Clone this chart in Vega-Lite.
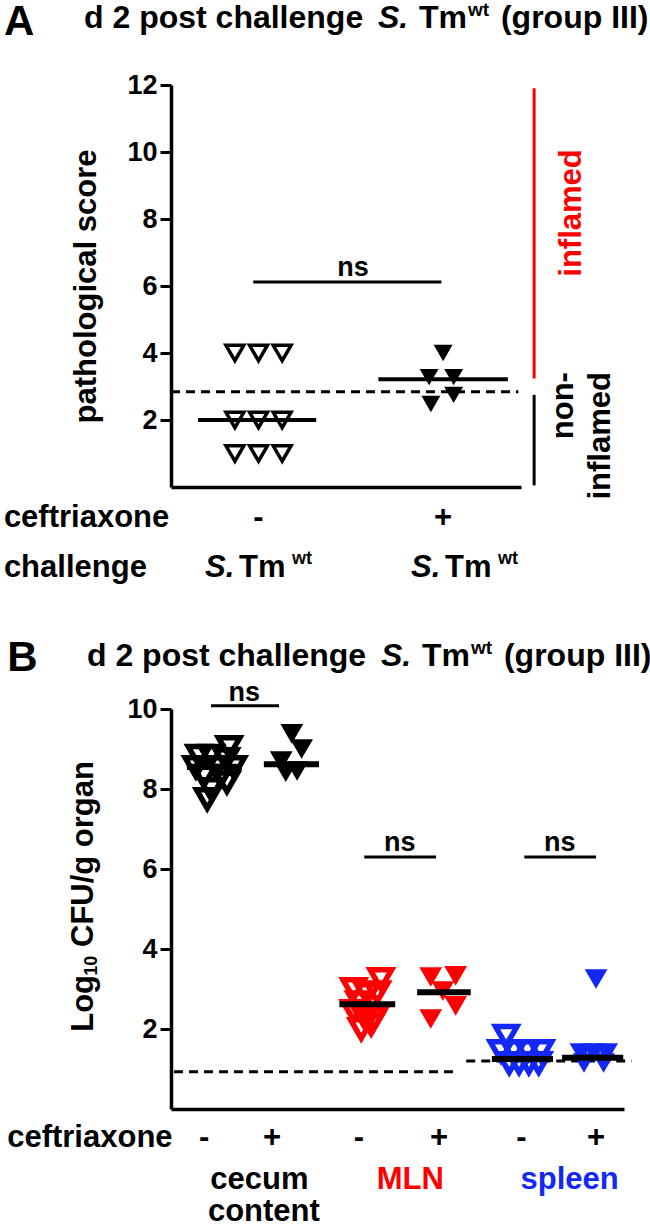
{
  "$schema": "https://vega.github.io/schema/vega-lite/v6.json",
  "padding": {"left": 3, "top": 0, "right": 0, "bottom": 0},
  "background": "white",
  "spacing": 53,
  "config": {
    "view": {"stroke": null},
    "font": "Liberation Sans",
    "axis": {"domainColor": "black", "domainWidth": 3.5, "tickColor": "black", "tickWidth": 3, "tickSize": 11, "labelFont": "Liberation Sans", "labelFontWeight": "bold", "labelFontSize": 27, "labelColor": "black", "labelPadding": 3, "grid": false, "titleFont": "Liberation Sans", "titleFontWeight": "bold", "titleFontSize": 31, "titleColor": "black"}
  },
  "datasets": {
    "a_pts": [
      {"x": 0.73, "y": 4, "abx": "-"}, {"x": 1.0, "y": 4, "abx": "-"}, {"x": 1.27, "y": 4, "abx": "-"},
      {"x": 0.73, "y": 2, "abx": "-"}, {"x": 1.0, "y": 2, "abx": "-"}, {"x": 1.27, "y": 2, "abx": "-"},
      {"x": 0.73, "y": 1, "abx": "-"}, {"x": 1.0, "y": 1, "abx": "-"}, {"x": 1.27, "y": 1, "abx": "-"},
      {"x": 3.11, "y": 4.0, "abx": "+"}, {"x": 2.95, "y": 3.28, "abx": "+"}, {"x": 3.23, "y": 3.28, "abx": "+"}, {"x": 2.97, "y": 2.48, "abx": "+"}, {"x": 3.23, "y": 2.75, "abx": "+"}
    ],
    "a_h": [
      {"x": 0.31, "x2": 1.66, "y": 2, "role": "median"},
      {"x": 2.37, "x2": 3.85, "y": 3.22, "role": "median"},
      {"x": 0.94, "x2": 3.09, "y": 6.12, "role": "sig"},
      {"x": 0, "x2": 3.97, "y": 2.84, "role": "threshold"}
    ],
    "a_v": [
      {"x": 4.15, "y": 11.9, "y2": 3.24, "role": "inflamed"},
      {"x": 4.15, "y": 2.75, "y2": 0.05, "role": "non-inflamed"}
    ],
    "a_txt": [
      {"x": -1.91, "y": 13.5, "text": "A", "role": "panel"},
      {"x": -0.994, "y": 13.7, "text": "d 2 post challenge", "role": "title"},
      {"x": 2.366, "y": 13.7, "text": "S.", "role": "title_it"},
      {"x": 2.834, "y": 13.7, "text": "Tm", "role": "title"},
      {"x": 3.394, "y": 14.06, "text": "wt", "role": "title_sup"},
      {"x": 3.771, "y": 13.7, "text": "(group III)", "role": "title"},
      {"x": 2.08, "y": 6.3, "text": "ns", "role": "ns"},
      {"x": -1.91, "y": -1.19, "text": "ceftriaxone", "role": "row"},
      {"x": -1.91, "y": -2.69, "text": "challenge", "role": "row"},
      {"x": 1.0, "y": -1.19, "text": "-", "role": "sign"},
      {"x": 3.11, "y": -1.19, "text": "+", "role": "sign"},
      {"x": 0.389, "y": -2.69, "text": "S.", "role": "row_it"},
      {"x": 0.777, "y": -2.69, "text": "Tm", "role": "row"},
      {"x": 1.383, "y": -2.3, "text": "wt", "role": "row_sup"},
      {"x": 2.743, "y": -2.69, "text": "S.", "role": "row_it"},
      {"x": 3.131, "y": -2.69, "text": "Tm", "role": "row"},
      {"x": 3.737, "y": -2.3, "text": "wt", "role": "row_sup"},
      {"x": 4.58, "y": 8.18, "text": "inflamed", "role": "inflamed"},
      {"x": 4.49, "y": 3.43, "text": "non-", "role": "noninflamed"},
      {"x": 4.91, "y": 3.43, "text": "inflamed", "role": "noninflamed"}
    ],
    "b_pts": [
      {"x": 0.77, "y": 8.83, "organ": "cecum", "abx": "-"}, {"x": 0.93, "y": 8.83, "organ": "cecum", "abx": "-"}, {"x": 1.17, "y": 9.05, "organ": "cecum", "abx": "-"}, {"x": 0.73, "y": 8.55, "organ": "cecum", "abx": "-"}, {"x": 1.23, "y": 8.55, "organ": "cecum", "abx": "-"}, {"x": 0.84, "y": 8.33, "organ": "cecum", "abx": "-"}, {"x": 1.06, "y": 8.33, "organ": "cecum", "abx": "-"}, {"x": 1.14, "y": 8.17, "organ": "cecum", "abx": "-"}, {"x": 0.93, "y": 8.0, "organ": "cecum", "abx": "-"}, {"x": 0.88, "y": 7.75, "organ": "cecum", "abx": "-"}, {"x": 1.0, "y": 8.55, "organ": "cecum", "abx": "-"}, {"x": 1.13, "y": 8.75, "organ": "cecum", "abx": "-"},
      {"x": 2.0, "y": 9.38, "organ": "cecum", "abx": "+"}, {"x": 2.13, "y": 9.0, "organ": "cecum", "abx": "+"}, {"x": 1.86, "y": 8.7, "organ": "cecum", "abx": "+"}, {"x": 1.92, "y": 8.42, "organ": "cecum", "abx": "+"}, {"x": 2.07, "y": 8.45, "organ": "cecum", "abx": "+"},
      {"x": 2.82, "y": 3.0, "organ": "MLN", "abx": "-"}, {"x": 3.18, "y": 3.25, "organ": "MLN", "abx": "-"}, {"x": 3.0, "y": 2.88, "organ": "MLN", "abx": "-"}, {"x": 3.13, "y": 2.92, "organ": "MLN", "abx": "-"}, {"x": 2.82, "y": 2.45, "organ": "MLN", "abx": "-"}, {"x": 2.96, "y": 2.3, "organ": "MLN", "abx": "-"}, {"x": 3.09, "y": 2.25, "organ": "MLN", "abx": "-"}, {"x": 2.92, "y": 2.0, "organ": "MLN", "abx": "-"}, {"x": 3.05, "y": 2.12, "organ": "MLN", "abx": "-"}, {"x": 2.89, "y": 2.67, "organ": "MLN", "abx": "-"},
      {"x": 3.84, "y": 3.3, "organ": "MLN", "abx": "+"}, {"x": 4.17, "y": 3.33, "organ": "MLN", "abx": "+"}, {"x": 4.0, "y": 2.95, "organ": "MLN", "abx": "+"}, {"x": 4.17, "y": 2.58, "organ": "MLN", "abx": "+"}, {"x": 3.84, "y": 2.25, "organ": "MLN", "abx": "+"},
      {"x": 4.84, "y": 1.83, "organ": "spleen", "abx": "-"}, {"x": 4.77, "y": 1.45, "organ": "spleen", "abx": "-"}, {"x": 4.94, "y": 1.45, "organ": "spleen", "abx": "-"}, {"x": 5.12, "y": 1.45, "organ": "spleen", "abx": "-"}, {"x": 5.3, "y": 1.45, "organ": "spleen", "abx": "-"}, {"x": 4.88, "y": 1.15, "organ": "spleen", "abx": "-"}, {"x": 5.01, "y": 1.15, "organ": "spleen", "abx": "-"}, {"x": 5.14, "y": 1.15, "organ": "spleen", "abx": "-"}, {"x": 5.27, "y": 1.15, "organ": "spleen", "abx": "-"},
      {"x": 6.03, "y": 3.25, "organ": "spleen", "abx": "+"}, {"x": 5.83, "y": 1.4, "organ": "spleen", "abx": "+"}, {"x": 6.0, "y": 1.4, "organ": "spleen", "abx": "+"}, {"x": 6.17, "y": 1.4, "organ": "spleen", "abx": "+"}, {"x": 5.87, "y": 1.15, "organ": "spleen", "abx": "+"}, {"x": 6.13, "y": 1.15, "organ": "spleen", "abx": "+"}
    ],
    "b_h": [
      {"x": 0.61, "x2": 1.34, "y": 8.55, "role": "median"},
      {"x": 1.63, "x2": 2.36, "y": 8.62, "role": "median"},
      {"x": 2.63, "x2": 3.37, "y": 2.62, "role": "median"},
      {"x": 3.66, "x2": 4.37, "y": 2.92, "role": "median"},
      {"x": 4.65, "x2": 5.46, "y": 1.25, "role": "median"},
      {"x": 5.58, "x2": 6.39, "y": 1.28, "role": "median"},
      {"x": 0.93, "x2": 1.83, "y": 10.08, "role": "sig"},
      {"x": 2.96, "x2": 3.91, "y": 6.3, "role": "sig"},
      {"x": 5.08, "x2": 6.03, "y": 6.3, "role": "sig"},
      {"x": 0.44, "x2": 4.21, "y": 0.93, "role": "threshold"},
      {"x": 4.31, "x2": 6.5, "y": 1.2, "role": "threshold"}
    ],
    "b_txt": [
      {"x": -1.77, "y": 10.95, "text": "B", "role": "panel"},
      {"x": -0.713, "y": 11.075, "text": "d 2 post challenge", "role": "title"},
      {"x": 3.181, "y": 11.075, "text": "S.", "role": "title_it"},
      {"x": 3.724, "y": 11.075, "text": "Tm", "role": "title"},
      {"x": 4.373, "y": 11.375, "text": "wt", "role": "title_sup"},
      {"x": 4.81, "y": 11.075, "text": "(group III)", "role": "title"},
      {"x": 1.37, "y": 10.2, "text": "ns", "role": "ns"},
      {"x": 3.43, "y": 6.45, "text": "ns", "role": "ns"},
      {"x": 5.55, "y": 6.45, "text": "ns", "role": "ns"},
      {"x": -1.77, "y": -0.95, "text": "ceftriaxone", "role": "row"},
      {"x": 0.84, "y": -0.95, "text": "-", "role": "sign"},
      {"x": 1.74, "y": -0.95, "text": "+", "role": "sign"},
      {"x": 2.89, "y": -0.95, "text": "-", "role": "sign"},
      {"x": 3.95, "y": -0.95, "text": "+", "role": "sign"},
      {"x": 5.04, "y": -0.95, "text": "-", "role": "sign"},
      {"x": 6.03, "y": -0.95, "text": "+", "role": "sign"},
      {"x": 1.57, "y": -2.0, "text": "cecum", "role": "organ", "organ": "cecum"},
      {"x": 1.63, "y": -2.79, "text": "content", "role": "organ", "organ": "cecum"},
      {"x": 3.57, "y": -2.0, "text": "MLN", "role": "organ", "organ": "MLN"},
      {"x": 5.68, "y": -2.0, "text": "spleen", "role": "organ", "organ": "spleen"},
      {"x": -0.75, "y": 1.93, "text": "Log", "role": "ytitle"},
      {"x": -0.645, "y": 3.33, "text": "10", "role": "ytitle_sub"},
      {"x": -0.75, "y": 4.05, "text": "CFU/g organ", "role": "ytitle"}
    ]
  },
  "vconcat": [
    {
      "width": 350,
      "height": 402,
      "encoding": {
        "x": {"field": "x", "type": "quantitative", "scale": {"domain": [0, 4], "nice": false, "zero": false}, "axis": {"ticks": false, "labels": false, "title": null}},
        "y": {"field": "y", "type": "quantitative", "scale": {"domain": [0, 12], "nice": false, "zero": false}, "axis": {"values": [2, 4, 6, 8, 10, 12], "title": "pathological score", "titlePadding": 24}}
      },
      "layer": [
        {"data": {"name": "a_h"}, "transform": [{"filter": "datum.role === 'threshold'"}], "mark": {"type": "rule", "color": "black", "strokeWidth": 3, "strokeDash": [9, 6]}, "encoding": {"x2": {"field": "x2"}}},
        {"data": {"name": "a_h"}, "transform": [{"filter": "datum.role === 'median'"}], "mark": {"type": "rule", "color": "black", "strokeWidth": 4}, "encoding": {"x2": {"field": "x2"}}},
        {"data": {"name": "a_h"}, "transform": [{"filter": "datum.role === 'sig'"}], "mark": {"type": "rule", "color": "black", "strokeWidth": 3}, "encoding": {"x2": {"field": "x2"}}},
        {"data": {"name": "a_v"}, "transform": [{"filter": "datum.role === 'inflamed'"}], "mark": {"type": "rule", "color": "#ff0000", "strokeWidth": 3}, "encoding": {"y2": {"field": "y2"}}},
        {"data": {"name": "a_v"}, "transform": [{"filter": "datum.role === 'non-inflamed'"}], "mark": {"type": "rule", "color": "black", "strokeWidth": 3}, "encoding": {"y2": {"field": "y2"}}},
        {"data": {"name": "a_pts"}, "transform": [{"filter": "datum.abx === '-'"}], "mark": {"type": "point", "shape": "triangle-down", "filled": false, "color": "black", "strokeWidth": 3.5, "size": 320, "opacity": 1}},
        {"data": {"name": "a_pts"}, "transform": [{"filter": "datum.abx === '+'"}], "mark": {"type": "point", "shape": "triangle-down", "filled": true, "color": "black", "size": 360, "opacity": 1}},
        {"data": {"name": "a_txt"}, "transform": [{"filter": "datum.role === 'panel'"}], "mark": {"type": "text", "align": "left", "baseline": "alphabetic", "fontSize": 42, "fontWeight": "bold", "color": "black"}, "encoding": {"text": {"field": "text"}}},
        {"data": {"name": "a_txt"}, "transform": [{"filter": "datum.role === 'title'"}], "mark": {"type": "text", "align": "left", "baseline": "alphabetic", "fontSize": 32, "fontWeight": "bold", "color": "black"}, "encoding": {"text": {"field": "text"}}},
        {"data": {"name": "a_txt"}, "transform": [{"filter": "datum.role === 'title_it'"}], "mark": {"type": "text", "align": "left", "baseline": "alphabetic", "fontSize": 32, "fontWeight": "bold", "fontStyle": "italic", "color": "black"}, "encoding": {"text": {"field": "text"}}},
        {"data": {"name": "a_txt"}, "transform": [{"filter": "datum.role === 'title_sup'"}], "mark": {"type": "text", "align": "left", "baseline": "alphabetic", "fontSize": 19, "fontWeight": "bold", "color": "black"}, "encoding": {"text": {"field": "text"}}},
        {"data": {"name": "a_txt"}, "transform": [{"filter": "datum.role === 'ns'"}], "mark": {"type": "text", "align": "center", "baseline": "alphabetic", "fontSize": 27, "fontWeight": "bold", "color": "black"}, "encoding": {"text": {"field": "text"}}},
        {"data": {"name": "a_txt"}, "transform": [{"filter": "datum.role === 'row'"}], "mark": {"type": "text", "align": "left", "baseline": "alphabetic", "fontSize": 31, "fontWeight": "bold", "color": "black"}, "encoding": {"text": {"field": "text"}}},
        {"data": {"name": "a_txt"}, "transform": [{"filter": "datum.role === 'row_it'"}], "mark": {"type": "text", "align": "left", "baseline": "alphabetic", "fontSize": 31, "fontWeight": "bold", "fontStyle": "italic", "color": "black"}, "encoding": {"text": {"field": "text"}}},
        {"data": {"name": "a_txt"}, "transform": [{"filter": "datum.role === 'row_sup'"}], "mark": {"type": "text", "align": "left", "baseline": "alphabetic", "fontSize": 18, "fontWeight": "bold", "color": "black"}, "encoding": {"text": {"field": "text"}}},
        {"data": {"name": "a_txt"}, "transform": [{"filter": "datum.role === 'sign'"}], "mark": {"type": "text", "align": "center", "baseline": "alphabetic", "fontSize": 31, "fontWeight": "bold", "color": "black"}, "encoding": {"text": {"field": "text"}}},
        {"data": {"name": "a_txt"}, "transform": [{"filter": "datum.role === 'inflamed'"}], "mark": {"type": "text", "align": "center", "baseline": "middle", "angle": 270, "fontSize": 31, "fontWeight": "bold", "color": "#ff0000"}, "encoding": {"text": {"field": "text"}}},
        {"data": {"name": "a_txt"}, "transform": [{"filter": "datum.role === 'noninflamed'"}], "mark": {"type": "text", "align": "right", "baseline": "middle", "angle": 270, "fontSize": 31, "fontWeight": "bold", "color": "black"}, "encoding": {"text": {"field": "text"}}}
      ]
    },
    {
      "width": 453,
      "height": 400,
      "encoding": {
        "x": {"field": "x", "type": "quantitative", "scale": {"domain": [0.4, 6.4], "nice": false, "zero": false}, "axis": {"ticks": false, "labels": false, "title": null}},
        "y": {"field": "y", "type": "quantitative", "scale": {"domain": [0, 10], "nice": false, "zero": false}, "axis": {"values": [2, 4, 6, 8, 10], "title": null}}
      },
      "layer": [
        {"data": {"name": "b_h"}, "transform": [{"filter": "datum.role === 'threshold'"}], "mark": {"type": "rule", "color": "black", "strokeWidth": 3, "strokeDash": [9, 6]}, "encoding": {"x2": {"field": "x2"}}},
        {"data": {"name": "b_h"}, "transform": [{"filter": "datum.role === 'sig'"}], "mark": {"type": "rule", "color": "black", "strokeWidth": 3}, "encoding": {"x2": {"field": "x2"}}},
        {"data": {"name": "b_pts"}, "transform": [{"filter": "datum.abx === '-'"}], "mark": {"type": "point", "shape": "triangle-down", "filled": false, "strokeWidth": 5.5, "size": 460, "opacity": 1}, "encoding": {"color": {"field": "organ", "type": "nominal", "scale": {"domain": ["cecum", "MLN", "spleen"], "range": ["#000000", "#ff0000", "#1428f5"]}, "legend": null}}},
        {"data": {"name": "b_pts"}, "transform": [{"filter": "datum.abx === '+'"}], "mark": {"type": "point", "shape": "triangle-down", "filled": true, "size": 520, "opacity": 1}, "encoding": {"color": {"field": "organ", "type": "nominal", "scale": {"domain": ["cecum", "MLN", "spleen"], "range": ["#000000", "#ff0000", "#1428f5"]}, "legend": null}}},
        {"data": {"name": "b_h"}, "transform": [{"filter": "datum.role === 'median'"}], "mark": {"type": "rule", "color": "black", "strokeWidth": 6}, "encoding": {"x2": {"field": "x2"}}},
        {"data": {"name": "b_txt"}, "transform": [{"filter": "datum.role === 'panel'"}], "mark": {"type": "text", "align": "left", "baseline": "alphabetic", "fontSize": 42, "fontWeight": "bold", "color": "black"}, "encoding": {"text": {"field": "text"}}},
        {"data": {"name": "b_txt"}, "transform": [{"filter": "datum.role === 'title'"}], "mark": {"type": "text", "align": "left", "baseline": "alphabetic", "fontSize": 32, "fontWeight": "bold", "color": "black"}, "encoding": {"text": {"field": "text"}}},
        {"data": {"name": "b_txt"}, "transform": [{"filter": "datum.role === 'title_it'"}], "mark": {"type": "text", "align": "left", "baseline": "alphabetic", "fontSize": 32, "fontWeight": "bold", "fontStyle": "italic", "color": "black"}, "encoding": {"text": {"field": "text"}}},
        {"data": {"name": "b_txt"}, "transform": [{"filter": "datum.role === 'title_sup'"}], "mark": {"type": "text", "align": "left", "baseline": "alphabetic", "fontSize": 19, "fontWeight": "bold", "color": "black"}, "encoding": {"text": {"field": "text"}}},
        {"data": {"name": "b_txt"}, "transform": [{"filter": "datum.role === 'ns'"}], "mark": {"type": "text", "align": "center", "baseline": "alphabetic", "fontSize": 27, "fontWeight": "bold", "color": "black"}, "encoding": {"text": {"field": "text"}}},
        {"data": {"name": "b_txt"}, "transform": [{"filter": "datum.role === 'row'"}], "mark": {"type": "text", "align": "left", "baseline": "alphabetic", "fontSize": 31, "fontWeight": "bold", "color": "black"}, "encoding": {"text": {"field": "text"}}},
        {"data": {"name": "b_txt"}, "transform": [{"filter": "datum.role === 'sign'"}], "mark": {"type": "text", "align": "center", "baseline": "alphabetic", "fontSize": 31, "fontWeight": "bold", "color": "black"}, "encoding": {"text": {"field": "text"}}},
        {"data": {"name": "b_txt"}, "transform": [{"filter": "datum.role === 'organ'"}], "mark": {"type": "text", "align": "center", "baseline": "alphabetic", "fontSize": 31, "fontWeight": "bold"}, "encoding": {"text": {"field": "text"}, "color": {"field": "organ", "type": "nominal", "scale": {"domain": ["cecum", "MLN", "spleen"], "range": ["#000000", "#ff0000", "#1428f5"]}, "legend": null}}},
        {"data": {"name": "b_txt"}, "transform": [{"filter": "datum.role === 'ytitle'"}], "mark": {"type": "text", "align": "left", "baseline": "middle", "angle": 270, "fontSize": 31, "fontWeight": "bold", "color": "black"}, "encoding": {"text": {"field": "text"}}},
        {"data": {"name": "b_txt"}, "transform": [{"filter": "datum.role === 'ytitle_sub'"}], "mark": {"type": "text", "align": "left", "baseline": "middle", "angle": 270, "fontSize": 18, "fontWeight": "bold", "color": "black"}, "encoding": {"text": {"field": "text"}}}
      ]
    }
  ]
}
